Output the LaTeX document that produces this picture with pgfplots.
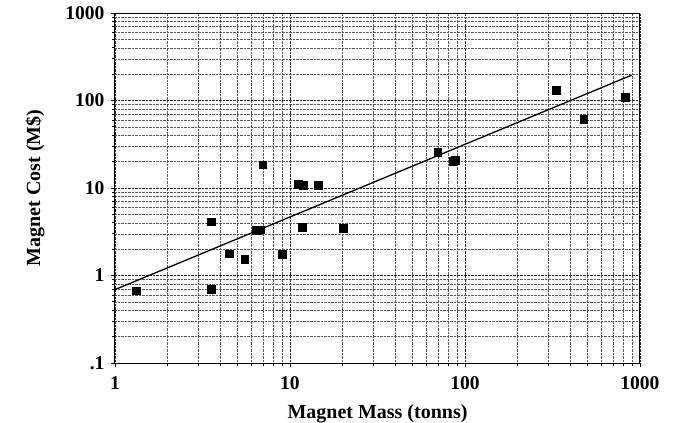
\documentclass[border=0pt]{standalone}
\usepackage{fontspec}
\setmainfont{Liberation Serif}
\usepackage{pgfplots}
\pgfplotsset{compat=1.18}

\begin{document}
\begin{tikzpicture}
\useasboundingbox (-115pt,-60pt) rectangle (563pt,363pt);
\begin{axis}[
    at={(0pt,0pt)}, anchor=south west,
    scale only axis,
    width=525pt, height=350pt,
    xmode=log, ymode=log,
    xmin=1, xmax=1000, ymin=0.1, ymax=1000,
    xtick={1,10,100,1000}, xticklabels={1,10,100,1000},
    ytick={0.1,1,10,100,1000}, yticklabels={.1,1,10,100,1000},
    tick align=outside,
    major tick length=4pt, minor tick length=3pt,
    xtick pos=bottom, ytick pos=left,
    grid=both,
    major grid style={black!85, densely dotted, line width=0.7pt},
    minor grid style={black!65, densely dotted, line width=0.45pt},
    axis line style={line width=1pt},
    every tick/.style={black, line width=0.7pt},
    ticklabel style={font=\fontsize{19.5}{20}\selectfont\bfseries},
    xticklabel style={yshift=-6pt},
    yticklabel style={xshift=-3pt},
    label style={font=\fontsize{20}{22}\selectfont\bfseries},
    xlabel={Magnet Mass (tonns)},
    ylabel={Magnet Cost (M\$)},
    xlabel style={at={(axis description cs:0.5,0)}, anchor=north, yshift=-38pt},
    ylabel style={yshift=14pt},
]
    % data points
    \addplot[only marks, mark=square*, mark size=3.8pt, black] coordinates {
        (1.32, 0.67)
        (3.54, 4.1)
        (3.54, 0.70)
        (4.5, 1.77)
        (5.5, 1.53)
        (6.4, 3.3)
        (6.8, 3.35)
        (9.0, 1.75)
        (7.0, 18.5)
        (11.1, 11.0)
        (11.9, 10.8)
        (14.5, 10.8)
        (11.7, 3.56)
        (20.2, 3.46)
        (69.8, 25.8)
        (85, 20.4)
        (88, 20.8)
        (331, 131)
        (477, 61.5)
        (821, 109)
    };
    % power-law fit
    \addplot[black, line width=1.3pt] coordinates {
        (1, 0.69)
        (896, 195)
    };
\end{axis}
\end{tikzpicture}
\end{document}
